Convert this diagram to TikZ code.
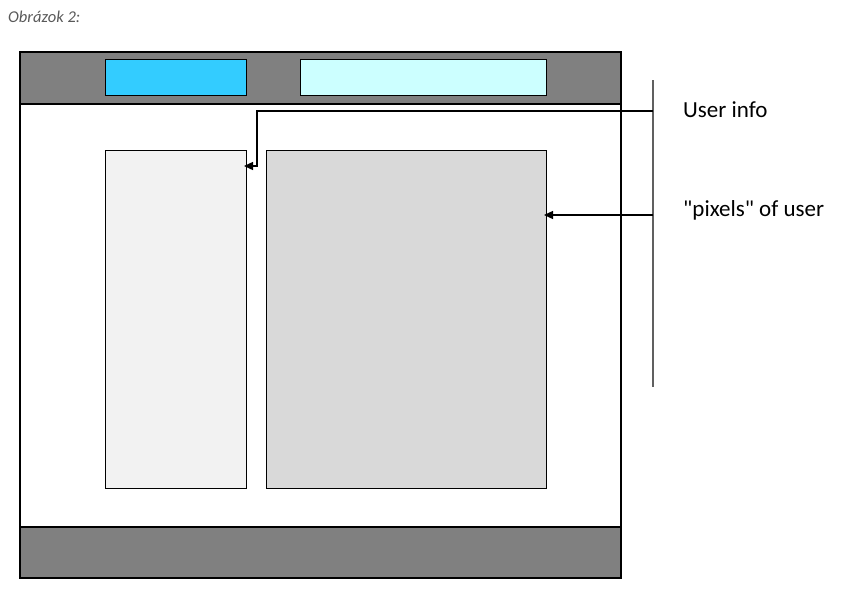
\documentclass[tikz,border=0pt]{standalone}
\usepackage{fontspec}
\setmainfont{Carlito}
\usetikzlibrary{arrows.meta}
\definecolor{bargray}{HTML}{808080}
\definecolor{bluebox}{HTML}{33CCFF}
\definecolor{cyanbox}{HTML}{CCFFFF}
\definecolor{leftpanel}{HTML}{F2F2F2}
\definecolor{rightpanel}{HTML}{D9D9D9}
\definecolor{captiongray}{HTML}{595959}
\definecolor{rulegray}{HTML}{606060}
\begin{document}
\begin{tikzpicture}[x=1pt,y=-1pt,
  box/.style={draw=black,line width=1.2pt},
  conn/.style={draw=black,line width=1.3pt,-{Triangle[length=9pt,width=8pt]}},
  lbl/.style={anchor=west,inner sep=0pt,font=\fontsize{23}{26}\selectfont}]
\useasboundingbox (0,0) rectangle (863,611);
% caption
\node[anchor=west,inner sep=0pt,text=captiongray,font=\fontsize{16.5}{19}\selectfont\itshape] (cap) at (8,17) {Obrázok 2:};
% outer frame
\path[box,fill=white] (20,52) rectangle (621,578);
\path[box,fill=bargray] (20,52) rectangle (621,104);
\path[box,fill=bargray] (20,527) rectangle (621,578);
\draw[line width=1.2pt] (20,52) rectangle (621,578);
% top boxes
\node[box,fill=bluebox,minimum width=141pt,minimum height=36pt,inner sep=0pt,anchor=north west] (blue) at (105,59) {};
\node[box,fill=cyanbox,minimum width=246pt,minimum height=36pt,inner sep=0pt,anchor=north west] (cyan) at (300,59) {};
% panels
\node[box,line width=1pt,fill=leftpanel,minimum width=141pt,minimum height=338pt,inner sep=0pt,anchor=north west] (left) at (105,150) {};
\node[box,line width=1pt,fill=rightpanel,minimum width=280pt,minimum height=338pt,inner sep=0pt,anchor=north west] (right) at (266,150) {};
% vertical rule
\coordinate (rtop) at (653,80);
\coordinate (rbot) at (653,387);
\draw[rulegray,line width=2pt] (rtop) -- (rbot);
% connectors
\coordinate (c1) at (653,111);
\coordinate (c2) at (653,215);
\coordinate (t1) at ([xshift=-3pt]left.east |- 0,166);
\coordinate (t2) at ([xshift=-3pt]right.east |- 0,215);
\draw[conn] (c1) -- (257,111) -- (257,166) -- (t1);
\draw[conn] (c2) -- (t2);
% labels
\node[lbl] (ui) at (683,110) {User info};
\node[lbl] (px) at (683,210) {\textquotedbl pixels\textquotedbl{} of user};
\end{tikzpicture}
\end{document}
